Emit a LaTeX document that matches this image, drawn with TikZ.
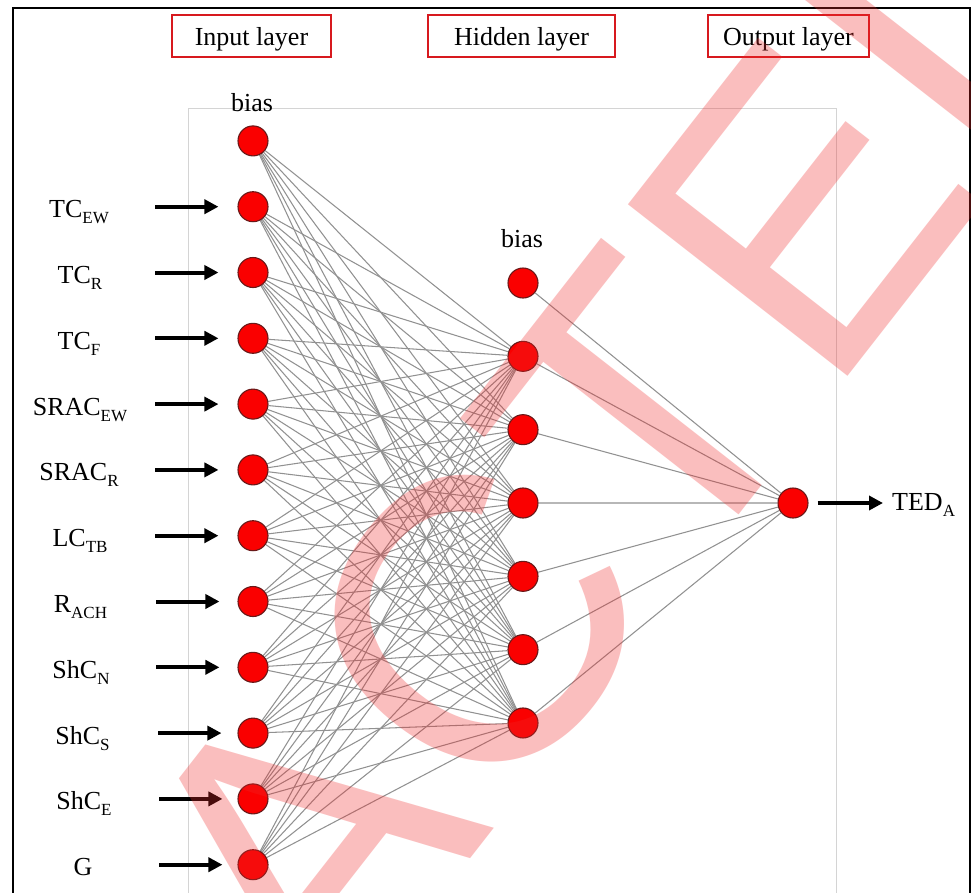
\documentclass[tikz,border=0pt]{standalone}
\usepackage{fontspec}
\setmainfont{Liberation Serif}
\newfontfamily\stampfont{Liberation Sans}
\usetikzlibrary{arrows.meta}
\definecolor{neuronred}{RGB}{250,0,0}
\definecolor{neuronrim}{RGB}{105,25,25}
\definecolor{boxred}{RGB}{215,25,30}
\definecolor{wirecol}{RGB}{145,145,145}
\definecolor{panelgray}{RGB}{212,212,212}
\definecolor{stampred}{RGB}{240,40,40}
\newcommand{\lsub}[1]{\raisebox{-6pt}{\fontsize{17}{17}\selectfont #1}}
\pgfdeclarelayer{paper}
\pgfdeclarelayer{wires}
\pgfsetlayers{paper,wires,main}
\begin{document}
\begin{tikzpicture}[x=1pt,y=-1pt,
  neuron/.style={circle,fill=neuronred,draw=neuronrim,line width=1.1pt,minimum size=30pt,inner sep=0pt},
  wire/.style={draw=wirecol,line width=1.05pt},
  feed/.style={line width=4pt,-{Triangle[length=14pt,width=14pt]}},
  layerbox/.style={draw=boxred,line width=2.5pt,inner sep=0pt,minimum height=42pt,
                   text height=19pt,text depth=0pt,font=\fontsize{26}{26}\selectfont},
  lbl/.style={anchor=base,inner sep=0pt,font=\fontsize{26}{26}\selectfont}]

\useasboundingbox (0,0) rectangle (971,892);
\begin{pgfonlayer}{paper}
  \fill[white] (0,0) rectangle (971,892);
\end{pgfonlayer}

% outer frame and inner panel
\draw[line width=2.6pt] (13,900) -- (13,8) -- (970,8) -- (970,900);
\draw[panelgray,line width=1pt] (188,900) -- (188,108) -- (836,108) -- (836,900);

% layer titles
\node[layerbox,minimum width=159pt] (boxin)  at (251.5,36) {Input layer};
\node[layerbox,minimum width=187pt] (boxhid) at (521.5,36) {Hidden layer};
\node[layerbox,minimum width=161pt] (boxout) at (788.5,36) {Output layer};

% neurons
\foreach \i in {0,...,11}
  \node[neuron] (in\i) at (253,{140.9+65.8*\i}) {};
\foreach \j in {0,...,6}
  \node[neuron] (hid\j) at (523,{283+73.33*\j}) {};
\node[neuron] (out) at (793,503) {};

% weights
\begin{pgfonlayer}{wires}
  \foreach \i in {0,...,11}
    \foreach \j in {1,...,6}
      \draw[wire] (in\i) -- (hid\j);
  \foreach \j in {0,...,6}
    \draw[wire] (hid\j) -- (out);
\end{pgfonlayer}

% bias labels
\node[lbl] (biasin)  at (252,111) {bias};
\node[lbl] (biashid) at (522,247) {bias};

% input labels and feeding arrows
\foreach \t/\lx/\i/\ax/\gap in {
    TC\lsub{EW}/79/1/155/19,
    TC\lsub{R}/80/2/155/19,
    TC\lsub{F}/79/3/155/19,
    SRAC\lsub{EW}/80/4/155/19,
    SRAC\lsub{R}/79/5/155/19,
    LC\lsub{TB}/80/6/155/19,
    R\lsub{ACH}/80.5/7/156/18,
    ShC\lsub{N}/81/8/156/18,
    ShC\lsub{S}/82.5/9/158/16,
    ShC\lsub{E}/84/10/159/15,
    G/83/11/159/15}{
  \node[lbl] (lab\i) at (\lx,{140.9+65.8*\i+11}) {\t};
  \coordinate (tail\i) at (\ax,{140.9+65.8*\i});
  \draw[feed,shorten >=\gap pt] (tail\i) -- (in\i);
}

% output
\coordinate (outtip) at (883,503);
\draw[feed,shorten <=9pt] (out) -- (outtip);
\node[anchor=base west,inner sep=0pt,font=\fontsize{26}{26}\selectfont] (ted) at (892,510) {TED\lsub{A}};

% diagonal stamp lettering
\begin{scope}
  \clip (0,0) rectangle (971,892);
  \node[anchor=base west,inner sep=0pt,rotate=52,text=stampred,text opacity=0.3,
        font=\stampfont\fontsize{405}{405}\selectfont] (stamp) at (328.5,1040.7) {ACTED};
\end{scope}
\end{tikzpicture}
\end{document}
